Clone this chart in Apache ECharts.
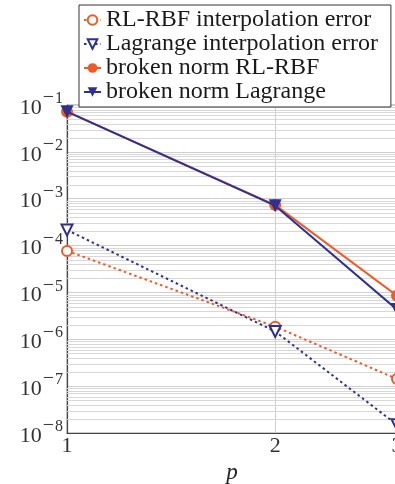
<!DOCTYPE html>
<html>
<head>
<meta charset="utf-8">
<script src="https://cdn.jsdelivr.net/npm/echarts@6/dist/echarts.min.js"></script>
<style>
html,body{margin:0;padding:0;background:#fff;}
#chart{width:395px;height:484px;}
</style>
</head>
<body>
<div id="chart"></div>
<script>
// ---- data ----
const pValues = [1, 2, 3];
const xTickLabels = ['1', '2', '3'];
const rlInterp = [7.7e-5, 1.86e-6, 1.42e-7];
const lagInterp = [2.15e-4, 1.47e-6, 1.5e-8];
const rlBroken = [7.2e-2, 7.3e-4, 8.5e-6];
const lagBroken = [7.2e-2, 7.1e-4, 4.3e-6];
const seriesNames = ['RL-RBF interpolation error', 'Lagrange interpolation error', 'broken norm RL-RBF', 'broken norm Lagrange'];
const yDecades = [-8, -7, -6, -5, -4, -3, -2, -1];
const verticalGridAt = [2];

const ORANGE = '#f15a24';
const BLUE = '#2e3192';
const FONT = 'Liberation Serif';

const pairs = arr => pValues.map((p, i) => [p, arr[i]]);

// minor horizontal grid lines (2..9 x 10^k)
const minorGridValues = [];
for (let k = yDecades[0]; k < yDecades[yDecades.length - 1]; k++) {
  for (let m = 2; m <= 9; m++) minorGridValues.push(m * Math.pow(10, k));
}
const xMin = pValues[0], xMax = pValues[pValues.length - 1];
const yMin = Math.pow(10, yDecades[0]), yMax = Math.pow(10, yDecades[yDecades.length - 1]);

const chart = echarts.init(document.getElementById('chart'));
chart.setOption({
  animation: false,
  backgroundColor: '#fff',
  grid: { left: 67, top: 105, width: 330, height: 328, containLabel: false, outerBoundsMode: 'none',
          show: true, borderColor: '#9a9a9a', borderWidth: 1 },
  legend: {
    data: seriesNames,
    orient: 'vertical',
    left: 79, top: 5,
    padding: [3, 13, 3, 4],
    itemGap: 0,
    itemWidth: 17, itemHeight: 12,
    backgroundColor: '#fff',
    borderColor: '#333', borderWidth: 1,
    borderRadius: 0,
    textStyle: { fontFamily: FONT, fontSize: 24, color: '#1a1a1a', lineHeight: 21.7 },
    z: 10
  },
  xAxis: {
    type: 'log', logBase: 10, min: xMin, max: xMax,
    name: 'p', nameLocation: 'middle', nameGap: 26,
    nameTextStyle: { fontFamily: FONT, fontSize: 23, fontStyle: 'italic', color: '#222' },
    axisLine: { show: true, lineStyle: { color: '#444', width: 1.2 } },
    axisTick: { show: false },
    splitLine: { show: false },
    axisLabel: {
      customValues: pValues,
      formatter: v => xTickLabels[pValues.indexOf(Math.round(v))] || '',
      fontFamily: FONT, fontSize: 22, color: '#333', margin: 2
    }
  },
  yAxis: {
    type: 'log', logBase: 10, min: yMin, max: yMax, interval: 1,
    axisLine: { show: true, lineStyle: { color: '#444', width: 1.2 } },
    axisTick: { show: false },
    splitLine: { show: true, lineStyle: { color: '#cfcfcf', width: 1 } },
    axisLabel: {
      margin: 4,
      formatter: v => {
        const e = Math.round(Math.log10(v));
        return '{b|10}{m|' + (e < 0 ? '\u2212' : '') + '}{s|' + Math.abs(e) + '}';
      },
      rich: {
        b: { fontFamily: FONT, fontSize: 22, color: '#333', padding: [6, 0, 0, 0] },
        m: { fontFamily: FONT, fontSize: 20, color: '#333', padding: [0, 1, 14, 1] },
        s: { fontFamily: FONT, fontSize: 16, color: '#333', padding: [0, 0, 12, 0] }
      }
    }
  },
  series: [
    {
      name: '__hgrid', type: 'custom', silent: true, z: 1, clip: true,
      data: minorGridValues.map(v => [xMin, v]),
      encode: { x: 0, y: 1 },
      renderItem: (params, api) => {
        const v = api.value(1);
        const a = api.coord([xMin, v]);
        const b = api.coord([xMax, v]);
        return { type: 'line', shape: { x1: a[0], y1: Math.round(a[1]) + 0.5, x2: b[0], y2: Math.round(a[1]) + 0.5 },
                 style: { stroke: '#d8d8d8', lineWidth: 1 } };
      }
    },
    {
      name: '__vgrid', type: 'custom', silent: true, z: 1, clip: true,
      data: verticalGridAt.map(p => [p, yMin]),
      encode: { x: 0, y: 1 },
      renderItem: (params, api) => {
        const p = api.value(0);
        const a = api.coord([p, yMin]);
        const b = api.coord([p, yMax]);
        return { type: 'line', shape: { x1: Math.round(a[0]) + 0.5, y1: a[1], x2: Math.round(a[0]) + 0.5, y2: b[1] },
                 style: { stroke: '#d0d0d0', lineWidth: 1 } };
      }
    },
    {
      name: seriesNames[0], type: 'line', data: pairs(rlInterp),
      symbol: 'emptyCircle', symbolSize: 10, color: ORANGE,
      lineStyle: { color: ORANGE, width: 2, type: [2.5, 3] },
      itemStyle: { color: ORANGE, borderWidth: 2 }, z: 3
    },
    {
      name: seriesNames[1], type: 'line', data: pairs(lagInterp),
      symbol: 'emptyTriangle', symbolRotate: 180, symbolSize: 11, color: BLUE,
      lineStyle: { color: BLUE, width: 2, type: [2.5, 3] },
      itemStyle: { color: BLUE, borderWidth: 2 }, z: 4
    },
    {
      name: seriesNames[2], type: 'line', data: pairs(rlBroken),
      symbol: 'circle', symbolSize: 12, color: ORANGE,
      lineStyle: { color: ORANGE, width: 2 },
      itemStyle: { color: ORANGE }, z: 5
    },
    {
      name: seriesNames[3], type: 'line', data: pairs(lagBroken),
      symbol: 'triangle', symbolRotate: 180, symbolSize: 13, color: BLUE,
      lineStyle: { color: BLUE, width: 2 },
      itemStyle: { color: BLUE }, z: 6
    }
  ]
});
</script>
</body>
</html>
